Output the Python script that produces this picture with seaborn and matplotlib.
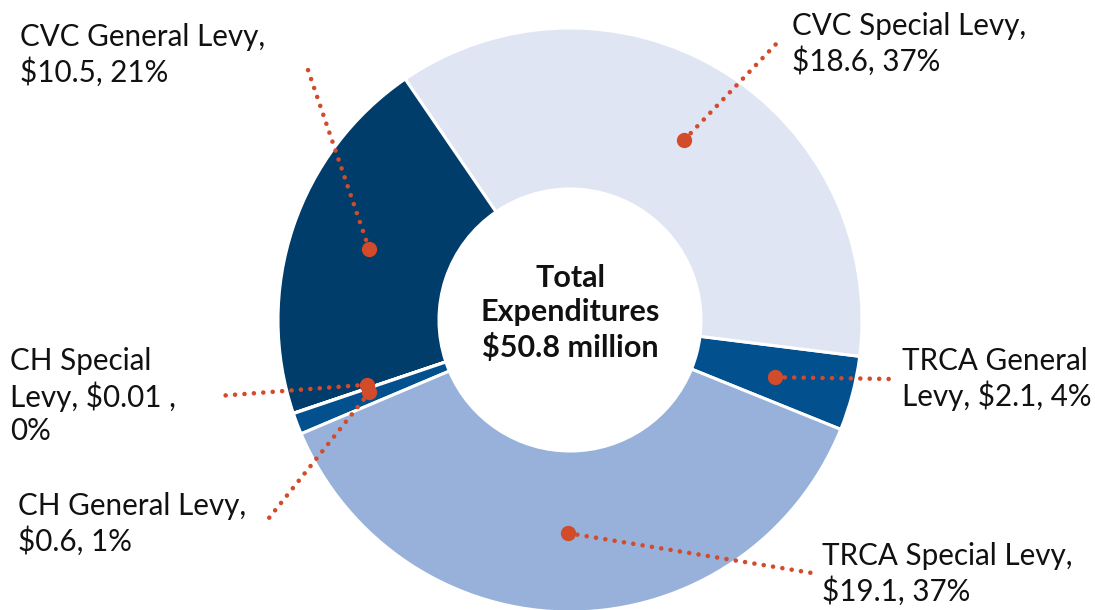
import matplotlib
matplotlib.use('Agg')
import matplotlib.pyplot as plt
import numpy as np
import seaborn as sns

# pie order (counter-clockwise from the lower edge of TRCA General)
categorias = ['TRCA General Levy', 'CVC Special Levy', 'CVC General Levy',
              'CH Special Levy', 'CH General Levy', 'TRCA Special Levy']
valores = [2.1, 18.6, 10.5, 0.01, 0.6, 19.1]
rotulos = [
    'TRCA General\nLevy, $2.1, 4%',
    'CVC Special Levy,\n$18.6, 37%',
    'CVC General Levy,\n$10.5, 21%',
    'CH Special\nLevy, $0.01 ,\n0%',
    'CH General Levy,\n$0.6, 1%',
    'TRCA Special Levy,\n$19.1, 37%',
]
cores = ['#02508E', '#E0E5F4', '#003D6B', '#02508E', '#02508E', '#98B1DA']
titulo_centro = 'Total\nExpenditures\n$50.8 million'

# layout (pixel space, y up)
W, H = 1095, 610
CENTRO = (570, 290)
RAIO = 292
LARGURA = 161
# end of each leader line and anchor of its label
fim_linha = [(890, 231), (778, 568), (308, 540), (218, 214), (265, 87), (812, 37)]
pos_rotulo = [(902, 231), (792, 566), (20, 555), (10, 214), (18, 86), (822, 36)]
ACENTO = '#D24B2A'

sns.set_theme(style='white')
plt.rcParams['font.family'] = ['Lato', 'DejaVu Sans']

fig = plt.figure(figsize=(W / 100, H / 100), dpi=100)
ax = fig.add_axes([0, 0, 1, 1])

fatias, _ = ax.pie(
    valores, colors=cores, startangle=-22, counterclock=True,
    center=CENTRO, radius=RAIO, frame=True,
    wedgeprops=dict(width=LARGURA, edgecolor='white', linewidth=2.2),
)
ax.set_xlim(0, W)
ax.set_ylim(0, H)
ax.set_axis_off()

for fatia, fim, pos, texto in zip(fatias, fim_linha, pos_rotulo, rotulos):
    ang = np.deg2rad((fatia.theta1 + fatia.theta2) / 2 - 1)
    px = CENTRO[0] + 0.73 * RAIO * np.cos(ang)
    py = CENTRO[1] + 0.73 * RAIO * np.sin(ang)
    ax.plot([px, fim[0]], [py, fim[1]], color=ACENTO, lw=3.3,
            linestyle=(0, (0.01, 2.05)), dash_capstyle='round', zorder=3)
    ax.plot(px, py, 'o', color=ACENTO, markersize=10, zorder=4)
    ax.text(pos[0], pos[1], texto, ha='left', va='center', fontsize=21.3,
            color='#111111', linespacing=1.22)

ax.text(CENTRO[0], 297, titulo_centro, ha='center', va='center',
        fontsize=22, fontweight='bold', color='#111111', linespacing=1.28)

fig.savefig('out.png', dpi=100)
